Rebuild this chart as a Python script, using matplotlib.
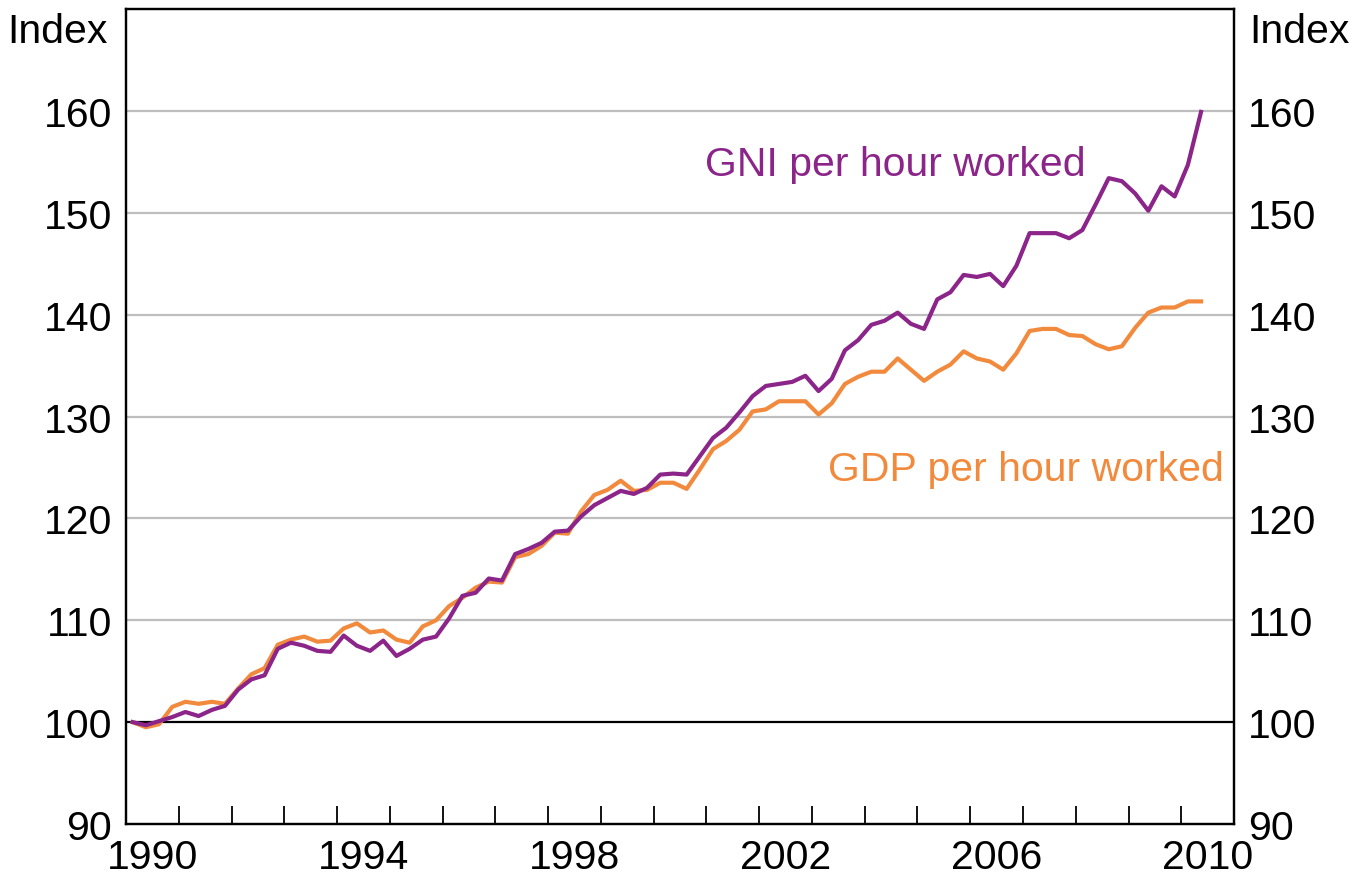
import numpy as np
import matplotlib
matplotlib.use('Agg')
import matplotlib.pyplot as plt

plt.rcParams['font.family'] = ['Liberation Sans', 'DejaVu Sans']

# Quarterly index, March quarter 1990 = 100
gni_per_hour = [
    100.0, 99.7, 100.1, 100.5, 101.0, 100.6, 101.2, 101.6, 103.2, 104.2, 104.6, 107.2, 107.8, 107.5, 107.0,
    106.9, 108.5, 107.5, 107.0, 108.0, 106.5, 107.2, 108.1, 108.4, 110.2, 112.4, 112.7, 114.1, 113.9,
    116.5, 117.0, 117.6, 118.7, 118.8, 120.2, 121.3, 122.0, 122.7, 122.4, 123.0, 124.3, 124.4,
    124.3, 126.1, 127.9, 128.9, 130.4, 132.0, 133.0, 133.2, 133.4, 134.0, 132.5, 133.7, 136.5, 137.5,
    139.0, 139.4, 140.2, 139.1, 138.6, 141.5, 142.2, 143.9, 143.7, 144.0, 142.8, 144.8,
    148.0, 148.0, 148.0, 147.5, 148.3, 150.8, 153.4, 153.1, 151.9, 150.2, 152.6, 151.6, 154.7, 159.9,
]
gdp_per_hour = [
    100.0, 99.5, 99.8, 101.5, 102.0, 101.8, 102.0, 101.8, 103.3, 104.7, 105.3, 107.6, 108.1, 108.4, 107.9,
    108.0, 109.2, 109.7, 108.8, 109.0, 108.1, 107.8, 109.4, 110.0, 111.4, 112.2, 113.2, 113.8, 113.7,
    116.2, 116.5, 117.3, 118.6, 118.5, 120.7, 122.3, 122.8, 123.7, 122.7, 122.8, 123.5, 123.5,
    122.9, 124.8, 126.8, 127.6, 128.7, 130.5, 130.7, 131.5, 131.5, 131.5, 130.2, 131.3, 133.2, 133.9,
    134.4, 134.4, 135.7, 134.6, 133.5, 134.4, 135.1, 136.4, 135.7, 135.4, 134.6, 136.2,
    138.4, 138.6, 138.6, 138.0, 137.9, 137.1, 136.6, 136.9, 138.7, 140.2, 140.7, 140.7, 141.3, 141.3,
]
first_year = 1990
year_labels = ['1990', '1994', '1998', '2002', '2006', '2010']
y_ticks = [90, 100, 110, 120, 130, 140, 150, 160]

purple = '#8C2589'
orange = '#F28A3D'
fs = 29.5

# points sit in the middle of each quarter
t = first_year + (np.arange(len(gni_per_hour)) + 0.5) / 4

fig = plt.figure(figsize=(13.54, 8.79), dpi=100)
ax = fig.add_axes([0.0931, 0.0614, 0.8183, 0.9272])

for v in y_ticks[2:]:
    ax.axhline(v, color='#BEBEBE', lw=1.6, zorder=1)
ax.axhline(100, color='black', lw=1.6, zorder=1)

ax.plot(t, gdp_per_hour, color=orange, lw=3, zorder=3)
ax.plot(t, gni_per_hour, color=purple, lw=3, zorder=4)

ax.set_xlim(1990, 2011)
ax.set_ylim(90, 170)

# year ticks inside, labels centred on the year
ax.set_xticks(np.arange(1991, 2011))
ax.set_xticklabels([])
ax.tick_params(axis='x', which='major', direction='in', length=13, width=1.3, color='black')
ax.set_xticks([int(y) + 0.5 for y in year_labels], minor=True)
ax.set_xticklabels(year_labels, minor=True, fontsize=fs)
ax.tick_params(axis='x', which='minor', length=0, pad=10)

ax.set_yticks(y_ticks)
ax.set_yticklabels([str(v) for v in y_ticks], fontsize=fs)
ax.tick_params(axis='y', length=0, pad=10)

ax2 = ax.twinx()
ax2.set_ylim(90, 170)
ax2.set_yticks(y_ticks)
ax2.set_yticklabels([str(v) for v in y_ticks], fontsize=fs)
ax2.tick_params(axis='y', length=0, pad=10)

for a in (ax, ax2):
    for s in a.spines.values():
        s.set_linewidth(1.6)

fig.text(0.0797, 0.964, 'Index', fontsize=fs, ha='right', va='center')
fig.text(0.9225, 0.964, 'Index', fontsize=fs, ha='left', va='center')

ax.text(2000.98, 153.7, 'GNI per hour worked', color=purple, fontsize=fs, ha='left', va='baseline')
ax.text(2003.31, 123.8, 'GDP per hour worked', color=orange, fontsize=fs, ha='left', va='baseline')

plt.savefig('out.png', dpi=100)
plt.close()
